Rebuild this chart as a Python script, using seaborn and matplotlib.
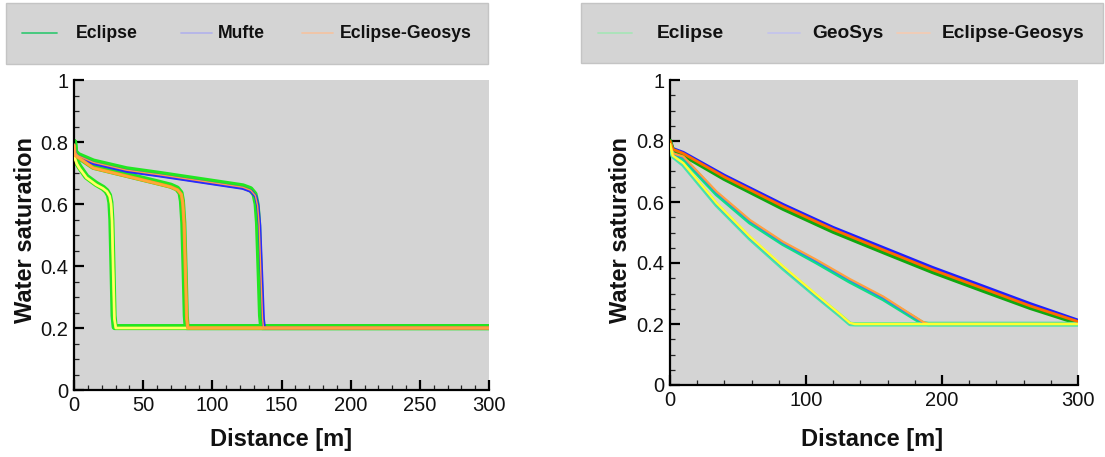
import numpy as np
import matplotlib
matplotlib.use("Agg")
import matplotlib.pyplot as plt
import seaborn as sns
from matplotlib.patches import Rectangle
from matplotlib.lines import Line2D

# ---------------- DATA ----------------
left_labels = ["Eclipse", "Mufte", "Eclipse-Geosys"]
right_labels = ["Eclipse", "GeoSys", "Eclipse-Geosys"]

# Left panel (three time snapshots, fronts near 28, 80, 135 m)
L_ecl_t1_x = [0, 0.8, 2, 4, 9, 16, 21, 23.5, 25.3, 26.3, 27, 27.8, 28.6, 29.4, 300]
L_ecl_t1_s = [0.80, 0.75, 0.735, 0.72, 0.688, 0.665, 0.652, 0.642, 0.628, 0.605, 0.55, 0.40, 0.24, 0.203, 0.203]
L_ecl_t2_x = [0, 0.8, 3, 14, 38, 62, 70, 74.5, 77, 78, 79, 80, 80.8, 81.4, 300]
L_ecl_t2_s = [0.80, 0.762, 0.753, 0.72, 0.694, 0.668, 0.659, 0.65, 0.636, 0.61, 0.54, 0.38, 0.24, 0.203, 0.203]
L_ecl_t3_x = [0, 0.8, 3, 14, 38, 62, 86, 110, 122, 127.5, 130.5, 132, 133, 134.2, 135.2, 136, 300]
L_ecl_t3_s = [0.80, 0.768, 0.758, 0.737, 0.712, 0.697, 0.681, 0.665, 0.657, 0.648, 0.632, 0.60, 0.54, 0.38, 0.24, 0.203, 0.203]

L_muf_t1_x = [0, 0.8, 2, 4, 9, 16, 21, 23.8, 25.8, 26.8, 27.5, 28.3, 29.2, 30.2, 300]
L_muf_t1_s = [0.79, 0.745, 0.73, 0.715, 0.685, 0.662, 0.65, 0.64, 0.625, 0.6, 0.545, 0.39, 0.23, 0.2, 0.2]
L_muf_t2_x = [0, 0.8, 3.1, 14, 38, 62, 70, 75, 77.6, 78.6, 79.6, 80.6, 81.5, 82.3, 300]
L_muf_t2_s = [0.79, 0.757, 0.75, 0.716, 0.69, 0.664, 0.655, 0.645, 0.631, 0.605, 0.535, 0.375, 0.23, 0.2, 0.2]
L_muf_t3_x = [0, 0.8, 3.1, 14, 38, 62, 86, 110, 122, 128, 131.4, 133, 134.2, 135.6, 136.8, 137.6, 300]
L_muf_t3_s = [0.79, 0.762, 0.752, 0.731, 0.706, 0.691, 0.675, 0.659, 0.651, 0.641, 0.624, 0.592, 0.53, 0.37, 0.23, 0.2, 0.2]

L_eg_t1_x = [0, 0.8, 2, 4, 9, 16, 21, 23.8, 25.8, 26.8, 27.5, 28.3, 29.2, 30.2, 300]
L_eg_t1_s = [0.79, 0.745, 0.73, 0.715, 0.685, 0.662, 0.65, 0.64, 0.625, 0.6, 0.545, 0.39, 0.23, 0.2, 0.2]
L_eg_t2_x = [0, 0.8, 3.1, 14, 38, 62, 70, 75, 77.6, 78.6, 79.6, 80.6, 81.5, 82.3, 300]
L_eg_t2_s = [0.79, 0.757, 0.75, 0.716, 0.69, 0.664, 0.655, 0.645, 0.631, 0.605, 0.535, 0.375, 0.23, 0.2, 0.2]
L_eg_t3_x = [0, 0.8, 3.1, 14, 38, 62, 86, 110, 122, 127.8, 131.1, 132.7, 133.8, 135.1, 136.3, 137, 300]
L_eg_t3_s = [0.79, 0.765, 0.755, 0.734, 0.709, 0.694, 0.678, 0.662, 0.654, 0.644, 0.627, 0.595, 0.535, 0.375, 0.23, 0.2, 0.2]

# Right panel (three time snapshots, fronts near 132, 188, 300 m)
R_x_t1 = [0, 2, 9.8, 34.3, 58.8, 83.3, 107.9, 125, 132.4, 136, 300]
R_ecl_t1 = [0.79, 0.75, 0.722, 0.59, 0.48, 0.382, 0.29, 0.228, 0.2, 0.199, 0.199]
R_geo_t1 = [0.79, 0.75, 0.724, 0.592, 0.482, 0.384, 0.291, 0.229, 0.2, 0.2, 0.2]
R_eg_t1 = [0.79, 0.752, 0.727, 0.596, 0.486, 0.388, 0.295, 0.232, 0.203, 0.2, 0.2]

R_x_t2 = [0, 2, 9.8, 34.3, 58.8, 83, 107.9, 132, 156.8, 175, 186, 190, 300]
R_ecl_t2 = [0.79, 0.755, 0.742, 0.626, 0.533, 0.463, 0.402, 0.34, 0.282, 0.232, 0.202, 0.2, 0.2]
R_geo_t2 = [0.79, 0.757, 0.745, 0.63, 0.537, 0.466, 0.405, 0.344, 0.285, 0.234, 0.204, 0.2, 0.2]
R_eg_t2 = [0.79, 0.76, 0.749, 0.634, 0.541, 0.47, 0.41, 0.348, 0.29, 0.238, 0.207, 0.2, 0.2]

R_x_t3 = [0, 2, 9.8, 40, 83.3, 120, 156.8, 193, 230, 265, 300]
R_ecl_t3 = [0.8, 0.77, 0.754, 0.676, 0.578, 0.503, 0.436, 0.371, 0.31, 0.253, 0.203]
R_geo_t3 = [0.8, 0.775, 0.762, 0.687, 0.591, 0.516, 0.45, 0.385, 0.324, 0.266, 0.212]
R_eg_t3 = [0.8, 0.773, 0.759, 0.682, 0.585, 0.51, 0.443, 0.378, 0.317, 0.259, 0.208]

x_ticks_left = [0, 50, 100, 150, 200, 250, 300]
x_ticks_right = [0, 100, 200, 300]
y_ticks = [0, 0.2, 0.4, 0.6, 0.8, 1]
y_tick_labels = ["0", "0.2", "0.4", "0.6", "0.8", "1"]

# ---------------- STYLE ----------------
sns.set_theme(style="ticks")
plt.rcParams["font.family"] = ["Liberation Sans", "DejaVu Sans"]
BG = "#d4d4d4"

W, H = 1105, 457
fig = plt.figure(figsize=(W / 100, H / 100), dpi=100)


def fx(px):
    return px / W


def fy(py):
    return 1 - py / H


axL = fig.add_axes([fx(74), fy(390), fx(489) - fx(74), fy(80) - fy(390)])
axR = fig.add_axes([fx(670), fy(385), fx(1078) - fx(670), fy(80) - fy(385)])


def line(ax, x, y, color, lw, z):
    sns.lineplot(x=x, y=y, ax=ax, color=color, linewidth=lw, sort=False,
                 estimator=None, zorder=z, legend=False)


# Left panel
for x, s in [(L_ecl_t1_x, L_ecl_t1_s), (L_ecl_t2_x, L_ecl_t2_s), (L_ecl_t3_x, L_ecl_t3_s)]:
    line(axL, x, s, "#22e622", 4.4, 2)
line(axL, L_muf_t3_x, L_muf_t3_s, "#2a2aff", 2.4, 3)
line(axL, L_muf_t1_x, L_muf_t1_s, "#ffff3a", 2.0, 4)
line(axL, L_eg_t1_x, L_eg_t1_s, "#ffff70", 1.3, 4)
line(axL, L_muf_t2_x, L_muf_t2_s, "#ff9a1e", 2.4, 5)
line(axL, L_eg_t2_x, L_eg_t2_s, "#ffa83a", 1.5, 5)
line(axL, L_eg_t3_x, L_eg_t3_s, "#ff9a4a", 1.0, 6)

# Right panel
line(axR, R_x_t3, R_geo_t3, "#2020ff", 2.4, 2)
line(axR, R_x_t3, R_ecl_t3, "#10a810", 3.2, 3)
line(axR, R_x_t3, R_eg_t3, "#ff6a00", 2.0, 4)
line(axR, R_x_t2, R_ecl_t2, "#10dd88", 3.2, 3)
line(axR, R_x_t2, R_geo_t2, "#2a7aff", 1.2, 4)
line(axR, R_x_t2, R_eg_t2, "#ffa040", 1.6, 5)
line(axR, R_x_t1, R_ecl_t1, "#44e8a8", 3.2, 3)
line(axR, R_x_t1, R_geo_t1, "#2a90ff", 1.2, 4)
line(axR, R_x_t1, R_eg_t1, "#ffff30", 1.8, 6)

for ax, xt, xmin_step in [(axL, x_ticks_left, 10), (axR, x_ticks_right, 20)]:
    ax.set_facecolor(BG)
    ax.set_xlim(0, 300)
    ax.set_ylim(0, 1)
    ax.set_xticks(xt)
    ax.set_xticklabels([str(v) for v in xt])
    ax.set_xticks(np.arange(0, 301, xmin_step), minor=True)
    ax.set_yticks(y_ticks)
    ax.set_yticklabels(y_tick_labels)
    ax.set_yticks(np.arange(0, 1.001, 0.05), minor=True)
    ax.tick_params(which="major", direction="in", length=7.5, width=1.6,
                   labelsize=14.5, pad=4, color="black", labelcolor="#111111")
    ax.tick_params(which="minor", direction="in", length=3.8, width=0.9, color="#222222")
    for sp in ["top", "right"]:
        ax.spines[sp].set_visible(False)
    for sp in ["left", "bottom"]:
        ax.spines[sp].set_linewidth(1.6)
        ax.spines[sp].set_color("black")
    ax.set_xlabel("Distance [m]", fontsize=17, fontweight="bold", color="#111111")
    ax.set_ylabel("Water saturation", fontsize=17, fontweight="bold", color="#111111")

axL.xaxis.set_label_coords(0.5, (390 - 428) / 310)
axL.yaxis.set_label_coords((37 - 74) / 415, (390 - 230) / 310)
axR.xaxis.set_label_coords((872 - 670) / 408, (385 - 428) / 305)
axR.yaxis.set_label_coords((632 - 670) / 408, (385 - 230) / 305)
axL.xaxis.label.set_va("top")
axR.xaxis.label.set_va("top")

# ---------------- LEGEND BOXES ----------------
def legend_box(x0, x1, y0, y1, items, fs):
    fig.add_artist(Rectangle((fx(x0), fy(y1)), fx(x1) - fx(x0), fy(y0) - fy(y1),
                             transform=fig.transFigure, facecolor=BG,
                             edgecolor="#c4c4c4", linewidth=1.0, zorder=0))
    for (lx0, lx1, tx, label, col) in items:
        fig.add_artist(Line2D([fx(lx0), fx(lx1)], [fy(33), fy(33)],
                              transform=fig.transFigure, color=col, linewidth=1.3))
        fig.text(fx(tx), fy(33), label, ha="left", va="center", fontsize=fs,
                 fontweight="bold", color="#111111")


legend_box(6, 488, 3, 64, [
    (22, 57, 76, left_labels[0], "#3cc878"),
    (181, 212, 218, left_labels[1], "#b4b4ea"),
    (302, 333, 340, left_labels[2], "#f2c4a4"),
], 12.7)
legend_box(581, 1103, 3, 63, [
    (598, 632, 657, right_labels[0], "#a8e4b8"),
    (768, 800, 812, right_labels[1], "#c4c4ec"),
    (897, 930, 942, right_labels[2], "#f2ccb4"),
], 13.8)

fig.savefig("out.png", dpi=100, facecolor="white")
